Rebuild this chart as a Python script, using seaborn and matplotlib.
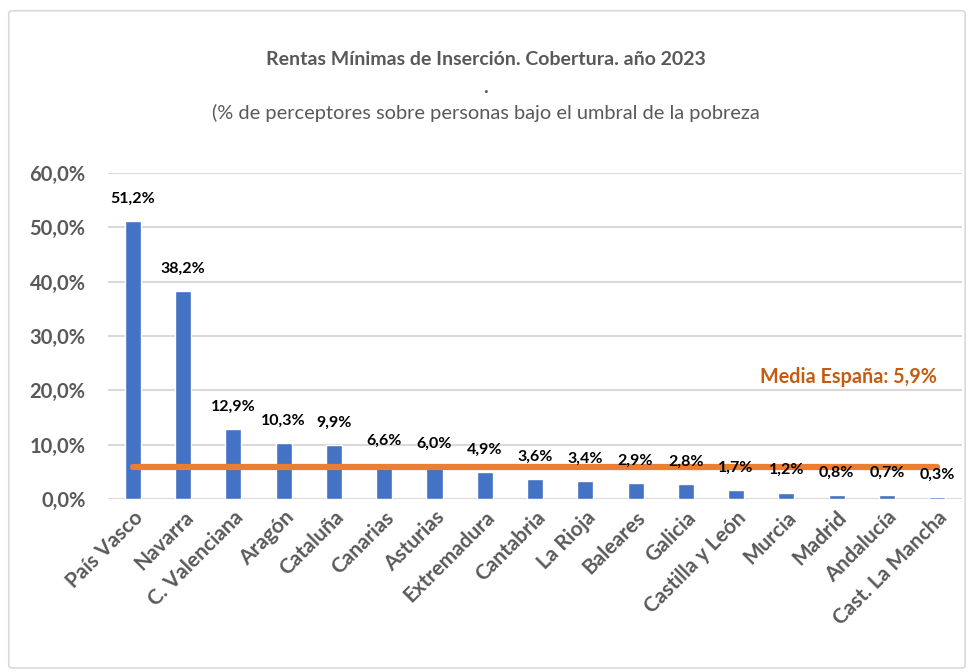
import matplotlib
matplotlib.use("Agg")
import matplotlib.pyplot as plt
from matplotlib.patches import FancyBboxPatch
import seaborn as sns
import pandas as pd

# Data
regiones = ["País Vasco", "Navarra", "C. Valenciana", "Aragón", "Cataluña", "Canarias",
            "Asturias", "Extremadura", "Cantabria", "La Rioja", "Baleares", "Galicia",
            "Castilla y León", "Murcia", "Madrid", "Andalucía", "Cast. La Mancha"]
cobertura = [51.2, 38.2, 12.9, 10.3, 9.9, 6.6, 6.0, 4.9, 3.6, 3.4, 2.9, 2.8, 1.7, 1.2, 0.8, 0.7, 0.3]
media_espana = 5.9

df = pd.DataFrame({"region": regiones, "cobertura": cobertura})

sns.set_theme(style="white")
plt.rcParams["font.family"] = ["Lato", "DejaVu Sans"]

fig = plt.figure(figsize=(9.71, 6.72), dpi=100)
ax = fig.add_axes([0.111, 0.2574, 0.880, 0.4851])

# outer chart border
border = FancyBboxPatch((0.009, 0.006), 0.985, 0.978, boxstyle="round,pad=0,rounding_size=0.004",
                        transform=fig.transFigure, facecolor="none", edgecolor="#D9D9D9", lw=1.2)
fig.patches.append(border)

sns.barplot(data=df, x="region", y="cobertura", color="#4472C4", width=0.32,
            saturation=1, ax=ax, zorder=2)

ax.set_ylim(0, 60)
ax.set_xlim(-0.5, len(regiones) - 0.5)
ax.set_yticks(range(0, 61, 10))
ax.set_yticklabels([f"{v},0%" for v in range(0, 61, 10)], fontsize=14.5,
                   fontweight="bold", color="#595959")
ax.yaxis.grid(True, color="#D9D9D9", lw=1.5, zorder=0)
ax.set_axisbelow(True)
for s in ax.spines.values():
    s.set_visible(False)
ax.tick_params(axis="y", length=0, pad=16)
ax.tick_params(axis="x", length=0, pad=6)
ax.set_xlabel("")
ax.set_ylabel("")
ax.set_xticks(range(len(regiones)))
ax.set_xticklabels(regiones, rotation=45, ha="right", rotation_mode="anchor",
                   fontsize=15, fontweight="bold", color="#595959")

# mean line
ax.plot([0, len(regiones) - 1], [media_espana, media_espana], color="#ED7D31", lw=4.5,
        solid_capstyle="round", zorder=3)
ax.text(len(regiones) - 1, 22.5, f"Media España: {media_espana:.1f}%".replace(".", ","),
        ha="right", va="center", fontsize=14.2, fontweight="bold", color="#C55A11")

# value labels
for i, v in enumerate(cobertura):
    ax.annotate(f"{v:.1f}%".replace(".", ","), (i, v), xytext=(0, 16), textcoords="offset points",
                ha="center", va="center", fontsize=11.5, fontweight="bold", color="black", zorder=4)

fig.text(0.5, 0.911, "Rentas Mínimas de Inserción. Cobertura. año 2023", ha="center",
         va="center", fontsize=14, fontweight="bold", color="#595959")
fig.text(0.5, 0.870, ".", ha="center", va="center", fontsize=14, fontweight="bold", color="#595959")
fig.text(0.5, 0.832, "(% de perceptores sobre personas bajo el umbral de la pobreza", ha="center",
         va="center", fontsize=14.4, color="#595959")

fig.savefig("out.png", dpi=100)
